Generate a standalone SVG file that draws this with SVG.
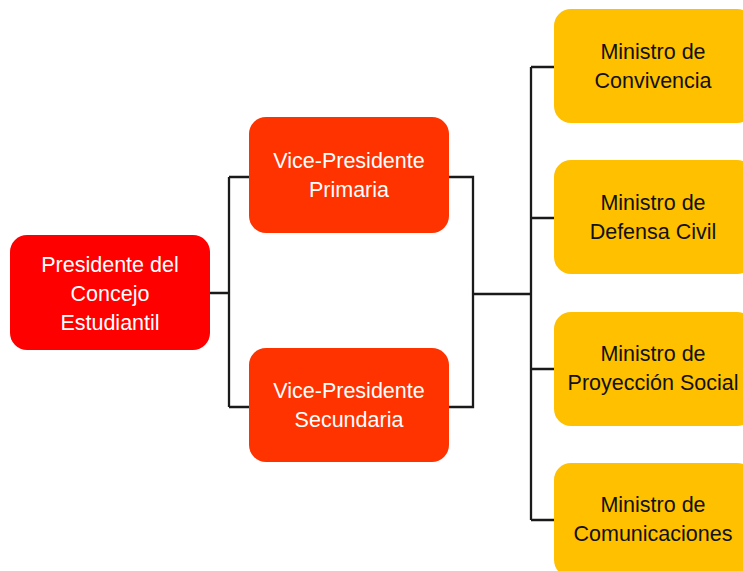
<svg xmlns="http://www.w3.org/2000/svg" width="743" height="571" viewBox="0 0 743 571">
<style>
.lbl{font-family:"Liberation Sans",Arial,sans-serif;font-size:21.5px;text-anchor:middle}
.w{fill:#ffffff}
.k{fill:#111111}
.conn{fill:none;stroke:#1a1a1a;stroke-width:2.3}
</style>
<rect width="743" height="571" fill="#ffffff"/>
<g id="connectors" class="conn">
<path d="M210 293 H229 M229 177 V407 M229 177 H249 M229 407 H249"/>
<path d="M449 177 H473 V407 H449 M473 294 H531"/>
<path d="M531 67 V520 M531 67 H554 M531 218 H554 M531 369 H554 M531 520 H554"/>
</g>
<g id="presidente">
<rect x="10" y="235" width="200" height="115" rx="17" fill="#ff0000"/>
<text class="lbl w" x="110" y="272">Presidente del</text>
<text class="lbl w" x="110" y="301">Concejo</text>
<text class="lbl w" x="110" y="330">Estudiantil</text>
</g>
<g id="vp-primaria">
<rect x="249" y="117" width="200" height="116" rx="17" fill="#ff3300"/>
<text class="lbl w" x="349" y="168">Vice-Presidente</text>
<text class="lbl w" x="349" y="197">Primaria</text>
</g>
<g id="vp-secundaria">
<rect x="249" y="348" width="200" height="114" rx="17" fill="#ff3300"/>
<text class="lbl w" x="349" y="398">Vice-Presidente</text>
<text class="lbl w" x="349" y="427">Secundaria</text>
</g>
<g id="min-convivencia">
<rect x="554" y="9" width="200" height="114" rx="17" fill="#ffc000"/>
<text class="lbl k" x="653" y="59">Ministro de</text>
<text class="lbl k" x="653" y="88">Convivencia</text>
</g>
<g id="min-defensa">
<rect x="554" y="160" width="200" height="114" rx="17" fill="#ffc000"/>
<text class="lbl k" x="653" y="210">Ministro de</text>
<text class="lbl k" x="653" y="239">Defensa Civil</text>
</g>
<g id="min-proyeccion">
<rect x="554" y="312" width="200" height="114" rx="17" fill="#ffc000"/>
<text class="lbl k" x="653" y="361">Ministro de</text>
<text class="lbl k" x="653" y="390">Proyección Social</text>
</g>
<g id="min-comunicaciones">
<rect x="554" y="463" width="200" height="114" rx="17" fill="#ffc000"/>
<text class="lbl k" x="653" y="512">Ministro de</text>
<text class="lbl k" x="653" y="541">Comunicaciones</text>
</g>
</svg>
